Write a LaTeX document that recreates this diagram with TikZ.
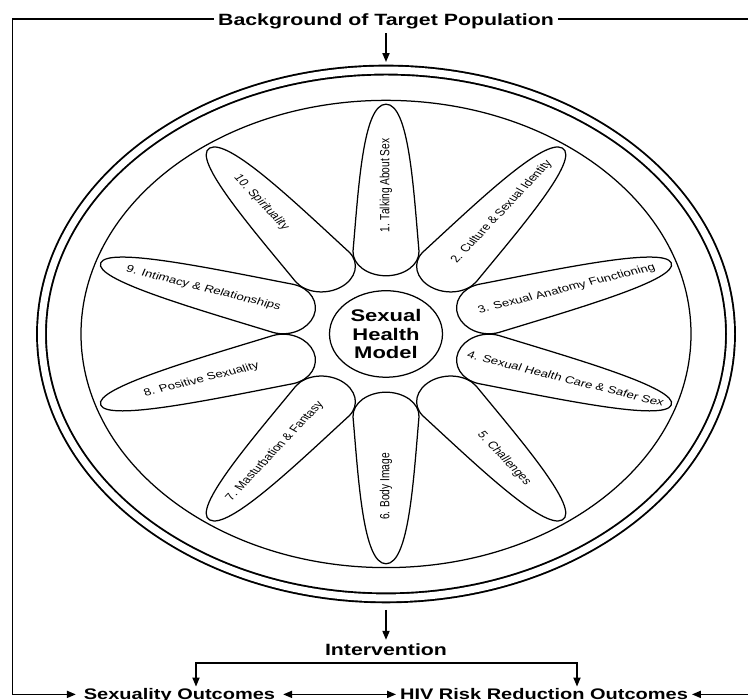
\documentclass[tikz,border=0pt]{standalone}
\usepackage{fontspec}
\setmainfont{Liberation Sans}
\usetikzlibrary{arrows.meta}
\tikzset{
  lbl/.style={font=\bfseries\fontsize{21.3}{24}\selectfont, text height=15.25pt, text depth=0pt, inner xsep=4pt, inner ysep=3pt, outer sep=0pt},
  outlbl/.style={font=\bfseries\fontsize{20}{24}\selectfont, text height=14.3pt, text depth=0pt, inner xsep=4pt, inner ysep=3pt, outer sep=0pt},
  frameline/.style={line width=1.7pt},
  arr/.style={line width=1.7pt, -{Triangle[length=9pt,width=7pt]}},
  dblarr/.style={line width=1.7pt, {Triangle[length=9pt,width=7pt]}-{Triangle[length=9pt,width=7pt]}},
  petal/.style={line width=1.25pt},
  ptxt/.style={font=\fontsize{13.3}{15}\selectfont, inner sep=0pt},
}
\begin{document}
\begin{tikzpicture}[x=1pt,y=1pt,yscale=0.766, every node/.style={transform shape}]
\fill[white] (0,0) rectangle (748,-913.8);
\useasboundingbox (0,0) rectangle (748,-913.8);

% wheel
\node[circle, draw, double, double distance=7pt, line width=1.9pt, minimum size=689pt, inner sep=0pt, outer sep=0pt] (wheel) at (386,-436) {};
\node[circle, draw, line width=1.25pt, minimum size=610pt, inner sep=0pt] (rim) at (386,-436) {};
\node[circle, draw, line width=1.25pt, minimum size=113pt, inner sep=0pt, align=center, font=\bfseries\fontsize{22}{24}\selectfont] (core) at (386,-436) {Sexual\\Health\\Model};

% petals
\foreach \i/\a/\r/\tr/\t in {
  1/90/194/0/{1. Talking About Sex},
  2/54/197/0/{2. Culture \& Sexual Identity},
  3/18/190/0/{3. Sexual Anatomy Functioning},
  4/-18/189/0/{4. Sexual Health Care \& Safer Sex},
  5/-54/201/0/{5. Challenges},
  6/-90/199/180/{6. Body Image},
  7/-126/189/180/{7. Masturbation \& Fantasy},
  8/-162/194/180/{8. Positive Sexuality},
  9/162/192/180/{9. Intimacy \& Relationships},
  10/126/212/180/{10. Spirituality}}{
  \begin{scope}[shift={(386,-436)}, rotate=\a]
    \draw[petal] (76,0) .. controls (76,18) and (90,33.5) .. (108,33)
      .. controls (190,27.5) and (300,23) .. (300,0)
      .. controls (300,-23) and (190,-27.5) .. (108,-33)
      .. controls (90,-33.5) and (76,-18) .. cycle;
    \node[ptxt, rotate=\tr] (p\i) at (\r,0) {\t};
  \end{scope}
}

% labels
\node[lbl] (bg) at (386,-25.2) {Background of Target Population};
\node[lbl] (iv) at (386,-848.6) {Intervention};
\node[outlbl, inner xsep=8pt] (so) at (179.5,-906.5) {Sexuality Outcomes};
\node[outlbl] (hiv) at (544,-906.5) {HIV Risk Reduction Outcomes};

% frame
\coordinate (tl) at (12.5,-25.2);
\coordinate (bl) at (12.5,-906.5);
\coordinate (tr) at (775,-25.2);
\coordinate (br) at (775,-906.5);
\draw[arr] (bg.west) -- (tl) -- (bl) -- (so.west);
\draw[arr] (bg.east) -- (tr) -- (br) -- (hiv.east);
\draw[dblarr] (so.east) -- (hiv.west);

% arrows through the model
\draw[arr, shorten <=5.6pt, shorten >=8pt] (bg.south) -- (wheel.north);
\draw[arr, shorten <=12pt, shorten >=2pt] (wheel.south) -- (iv.north);

% branch to outcomes
\coordinate (br1) at (196,-865.5);
\coordinate (br2) at (577,-865.5);
\draw[dblarr] (br1 |- so.north) -- (br1) -- (br2) -- (br2 |- hiv.north);
\end{tikzpicture}
\end{document}
